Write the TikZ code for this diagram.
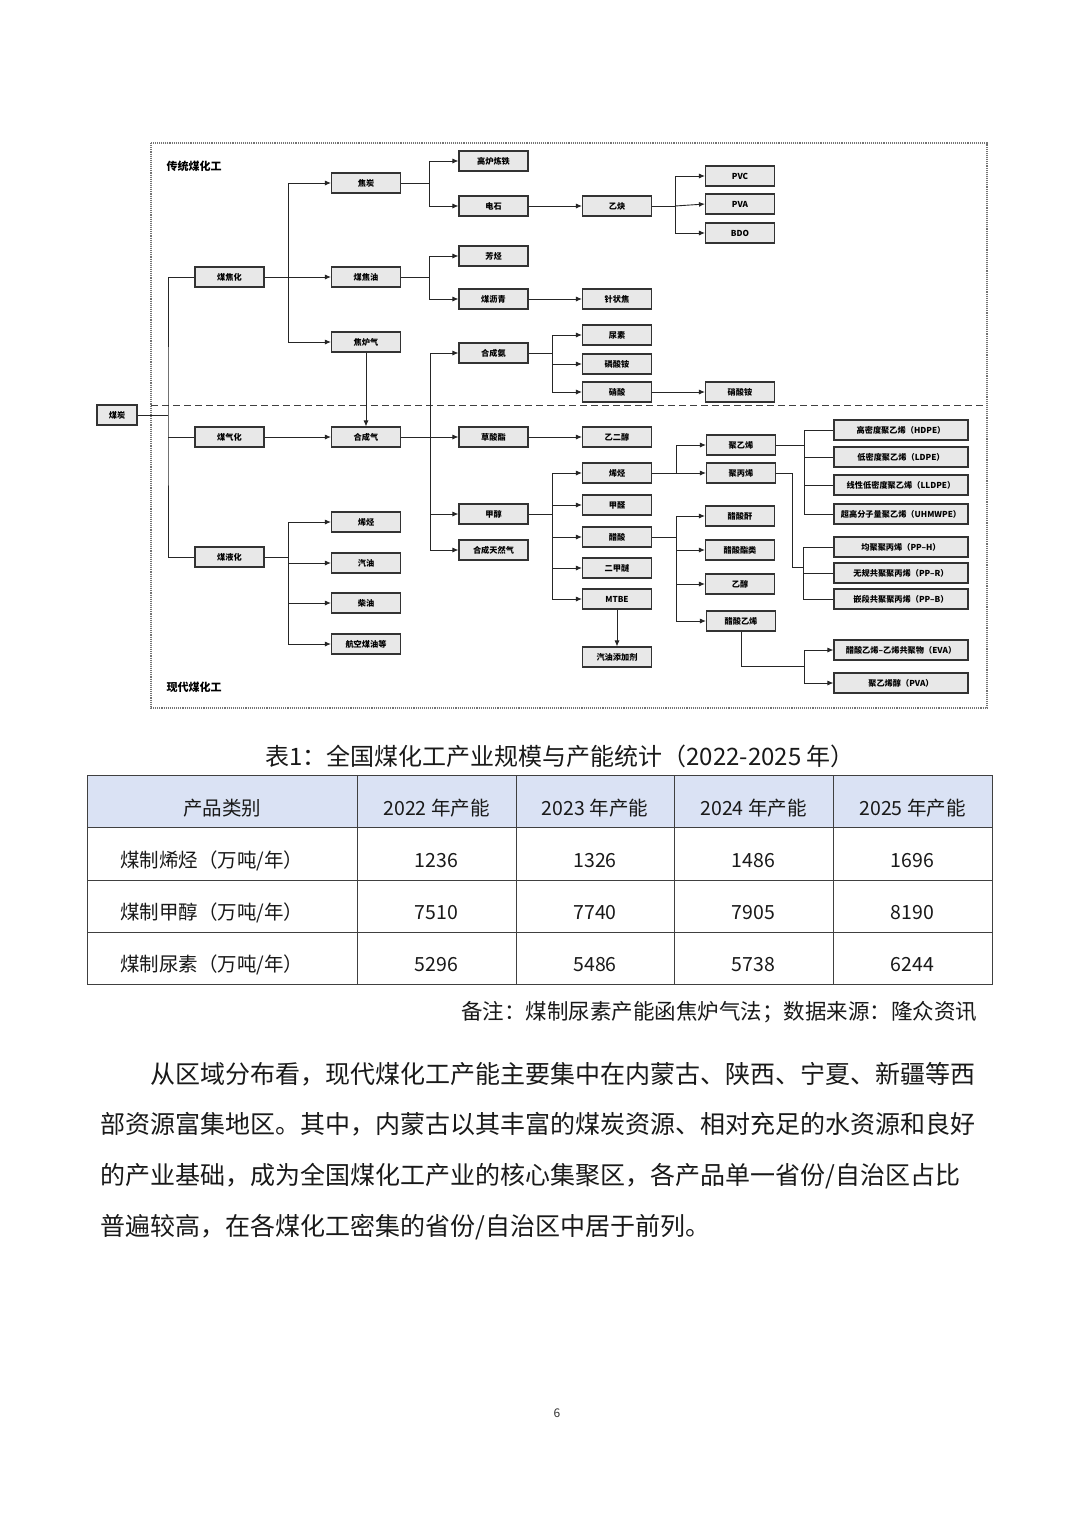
\documentclass[tikz,border=0pt]{standalone}
\usepackage{fontspec}
\setmainfont{Noto Sans CJK SC}
\usetikzlibrary{arrows.meta}
\definecolor{headblue}{RGB}{218,226,244}

\begin{document}
\begin{tikzpicture}[x=1pt,y=-1pt,
  box/.style={draw=black!80,fill=black!9,line width=1.1pt,minimum width=69pt,
    minimum height=20pt,inner sep=1pt,font=\fontsize{8.2}{9}\selectfont\bfseries},
  wbox/.style={box,minimum width=134pt},
  lk/.style={draw=black!85,line width=0.9pt},
  lka/.style={lk,-{Latex[length=6pt,width=5pt]}},
  cell/.style={font=\fontsize{19.5}{22}\selectfont,text=black!90,inner sep=0pt}]
  \useasboundingbox (0,0) rectangle (1080,1526);
  \fill[white] (0,0) rectangle (1080,1526);

  % frame of the chart
  \draw[black!55,densely dotted,line width=1.1pt] (151,143) rectangle (987,708);
  \draw[black!75,dash pattern=on 7pt off 4pt,line width=1pt] (151,405) -- (987,405);
  \node[anchor=west,font=\fontsize{11}{12}\selectfont\bfseries] (trad) at (163,166) {传统煤化工};
  \node[anchor=west,font=\fontsize{11}{12}\selectfont\bfseries] (modern) at (163,687) {现代煤化工};

  % boxes
  \node[box,minimum width=40pt] (coal) at (117,415) {煤炭};
  \node[box] (coking) at (229.5,277) {煤焦化};
  \node[box] (gasif) at (229.5,437) {煤气化};
  \node[box] (liquef) at (229.5,557) {煤液化};

  \node[box] (coke) at (366,183) {焦炭};
  \node[box] (tar) at (366,277) {煤焦油};
  \node[box] (cog) at (366,342) {焦炉气};
  \node[box] (syngas) at (366,437) {合成气};
  \node[box] (olefinL) at (366,522) {烯烃};
  \node[box] (gasoline) at (366,563) {汽油};
  \node[box] (diesel) at (366,603) {柴油};
  \node[box] (jet) at (366,644) {航空煤油等};

  \node[box] (blast) at (493.5,161) {高炉炼铁};
  \node[box] (carbide) at (493.5,206) {电石};
  \node[box] (arom) at (493.5,256) {芳烃};
  \node[box] (pitch) at (493.5,299) {煤沥青};
  \node[box] (ammonia) at (493.5,353) {合成氨};
  \node[box] (oxalate) at (493.5,437) {草酸酯};
  \node[box] (methanol) at (493.5,514) {甲醇};
  \node[box] (sng) at (493.5,550) {合成天然气};

  \node[box] (acetyl) at (617,206) {乙炔};
  \node[box] (needle) at (617,299) {针状焦};
  \node[box] (urea) at (617,335) {尿素};
  \node[box] (amphos) at (617,364) {磷酸铵};
  \node[box] (nitric) at (617,392) {硝酸};
  \node[box] (glycol) at (617,437) {乙二醇};
  \node[box] (olefinM) at (617,473) {烯烃};
  \node[box] (formal) at (617,505) {甲醛};
  \node[box] (acetic) at (617,537) {醋酸};
  \node[box] (dme) at (617,568) {二甲醚};
  \node[box] (mtbe) at (617,599) {MTBE};
  \node[box] (additive) at (617,657) {汽油添加剂};

  \node[box] (pvc) at (740,176) {PVC};
  \node[box] (pva) at (740,204) {PVA};
  \node[box] (bdo) at (740,233) {BDO};
  \node[box] (amnit) at (740,392) {硝酸铵};
  \node[box] (pe) at (741,445) {聚乙烯};
  \node[box] (pp) at (741,473) {聚丙烯};
  \node[box] (anhyd) at (740,516) {醋酸酐};
  \node[box] (ester) at (740,550) {醋酸酯类};
  \node[box] (ethanol) at (740,584) {乙醇};
  \node[box] (vac) at (741,621) {醋酸乙烯};

  \node[wbox] (hdpe) at (901,430) {高密度聚乙烯（HDPE）};
  \node[wbox] (ldpe) at (901,457) {低密度聚乙烯（LDPE）};
  \node[wbox] (lldpe) at (901,485) {线性低密度聚乙烯（LLDPE）};
  \node[wbox] (uhmwpe) at (901,514) {超高分子量聚乙烯（UHMWPE）};
  \node[wbox] (pph) at (901,547) {均聚聚丙烯（PP–H）};
  \node[wbox] (ppr) at (901,573) {无规共聚聚丙烯（PP–R）};
  \node[wbox] (ppb) at (901,599) {嵌段共聚聚丙烯（PP–B）};
  \node[wbox] (eva) at (901,650) {醋酸乙烯–乙烯共聚物（EVA）};
  \node[wbox] (pvoh) at (901,683) {聚乙烯醇（PVA）};

  % links
  \coordinate (s0) at (168,415);
  \draw[lk] (coal.east) -- (s0);
  \draw[lk] (coking.west) -| (s0) |- (liquef.west);
  \draw[lk] (gasif.west) -- (gasif.west -| s0);

  \coordinate (s1) at (288,277);
  \draw[lka] (coking.east) -- (tar.west);
  \draw[lka] (s1) |- (coke.west);
  \draw[lka] (s1) |- (cog.west);

  \coordinate (s13) at (288,557);
  \draw[lk] (liquef.east) -- (s13);
  \draw[lka] (s13) |- (olefinL.west);
  \draw[lka] (s13) |- (gasoline.west);
  \draw[lka] (s13) |- (diesel.west);
  \draw[lka] (s13) |- (jet.west);

  \coordinate (s2) at (429,183);
  \draw[lk] (coke.east) -- (s2);
  \draw[lka] (s2) |- (blast.west);
  \draw[lka] (s2) |- (carbide.west);
  \draw[lka] (carbide.east) -- (acetyl.west);
  \coordinate (s3) at (675,206);
  \draw[lk] (acetyl.east) -- (s3);
  \draw[lka] (s3) |- (pvc.west);
  \draw[lka] (s3) -- (pva.west);
  \draw[lka] (s3) |- (bdo.west);

  \coordinate (s4) at (429,277);
  \draw[lk] (tar.east) -- (s4);
  \draw[lka] (s4) |- (arom.west);
  \draw[lka] (s4) |- (pitch.west);
  \draw[lka] (pitch.east) -- (needle.west);

  \draw[lka] (cog.south) -- (syngas.north);
  \draw[lka] (gasif.east) -- (syngas.west);

  \coordinate (s5) at (430,437);
  \draw[lka] (syngas.east) -- (oxalate.west);
  \draw[lka] (s5) |- (ammonia.west);
  \draw[lka] (s5) |- (methanol.west);
  \draw[lka] (s5) |- (sng.west);
  \draw[lka] (oxalate.east) -- (glycol.west);

  \coordinate (s6) at (552,353);
  \draw[lk] (ammonia.east) -- (s6);
  \draw[lka] (s6) |- (urea.west);
  \draw[lka] (s6) |- (amphos.west);
  \draw[lka] (s6) |- (nitric.west);
  \draw[lka] (nitric.east) -- (amnit.west);

  \coordinate (s7) at (552,514);
  \draw[lk] (methanol.east) -- (s7);
  \draw[lka] (s7) |- (olefinM.west);
  \draw[lka] (s7) |- (formal.west);
  \draw[lka] (s7) |- (acetic.west);
  \draw[lka] (s7) |- (dme.west);
  \draw[lka] (s7) |- (mtbe.west);
  \draw[lka] (mtbe.south) -- (additive.north);

  \coordinate (s8) at (676,473);
  \draw[lk] (olefinM.east) -- (s8);
  \draw[lka] (s8) |- (pe.west);
  \draw[lka] (s8) -- (pp.west);

  \coordinate (s9) at (676,537);
  \draw[lk] (acetic.east) -- (s9);
  \draw[lka] (s9) |- (anhyd.west);
  \draw[lka] (s9) |- (ester.west);
  \draw[lka] (s9) |- (ethanol.west);
  \draw[lka] (s9) |- (vac.west);

  \coordinate (s10) at (804,445);
  \draw[lk] (pe.east) -- (s10);
  \foreach \t in {hdpe,ldpe,lldpe,uhmwpe} \draw[lk] (s10) |- (\t.west);

  \coordinate (s11) at (803,567);
  \draw[lk] (pp.east) -- (792,473) -- (792,567) -- (s11);
  \foreach \t in {pph,ppr,ppb} \draw[lk] (s11) |- (\t.west);

  \coordinate (s12) at (804,666);
  \draw[lk] (vac.south) |- (s12);
  \draw[lka] (s12) |- (eva.west);
  \draw[lka] (s12) |- (pvoh.west);

  % table
  \node[font=\fontsize{24}{26}\selectfont,text=black!90] (caption) at (560,756)
    {表1：全国煤化工产业规模与产能统计（2022-2025 年）};
  \fill[headblue] (87,775) rectangle (992,827);
  \draw[black!75,line width=1pt] (87,775) rectangle (992,984);
  \foreach \y in {827,880,932} \draw[black!75,line width=1pt] (87,\y) -- (992,\y);
  \foreach \x in {357,516,674,833} \draw[black!75,line width=1pt] (\x,775) -- (\x,984);

  \node[cell] (hcat) at (222,808) {产品类别};
  \foreach \cx/\yr in {436.5/2022,595/2023,753.5/2024,912.5/2025}
    \node[cell] (h\yr) at (\cx,808) {\yr\ 年产能};
  \node[cell,anchor=west] (rolefin) at (120,861) {煤制烯烃（万吨/年）};
  \node[cell,anchor=west] (rmeoh) at (120,913) {煤制甲醇（万吨/年）};
  \node[cell,anchor=west] (rurea) at (120,965) {煤制尿素（万吨/年）};
  \foreach \cx/\a/\b/\c [count=\i] in {436.5/1236/7510/5296,595/1326/7740/5486,
      753.5/1486/7905/5738,912.5/1696/8190/6244} {
    \node[cell] (a\i) at (\cx,861) {\a};
    \node[cell] (b\i) at (\cx,913) {\b};
    \node[cell] (c\i) at (\cx,965) {\c};
  }

  % note and text
  \node[anchor=east,font=\fontsize{21.5}{24}\selectfont,text=black!90] (note) at (981,1012)
    {备注：煤制尿素产能函焦炉气法；数据来源：隆众资讯};
  \begin{scope}[every node/.style={anchor=west,inner sep=0pt,font=\fontsize{25}{28}\selectfont,text=black!90}]
    \node (p1) at (150,1074) {从区域分布看，现代煤化工产能主要集中在内蒙古、陕西、宁夏、新疆等西};
    \node (p2) at (100,1124) {部资源富集地区。其中，内蒙古以其丰富的煤炭资源、相对充足的水资源和良好};
    \node (p3) at (100,1176) {的产业基础，成为全国煤化工产业的核心集聚区，各产品单一省份/自治区占比};
    \node (p4) at (100,1227) {普遍较高，在各煤化工密集的省份/自治区中居于前列。};
  \end{scope}
  \node[font=\fontsize{12}{14}\selectfont,text=black!80] (pageno) at (557,1413) {6};
\end{tikzpicture}
\end{document}
